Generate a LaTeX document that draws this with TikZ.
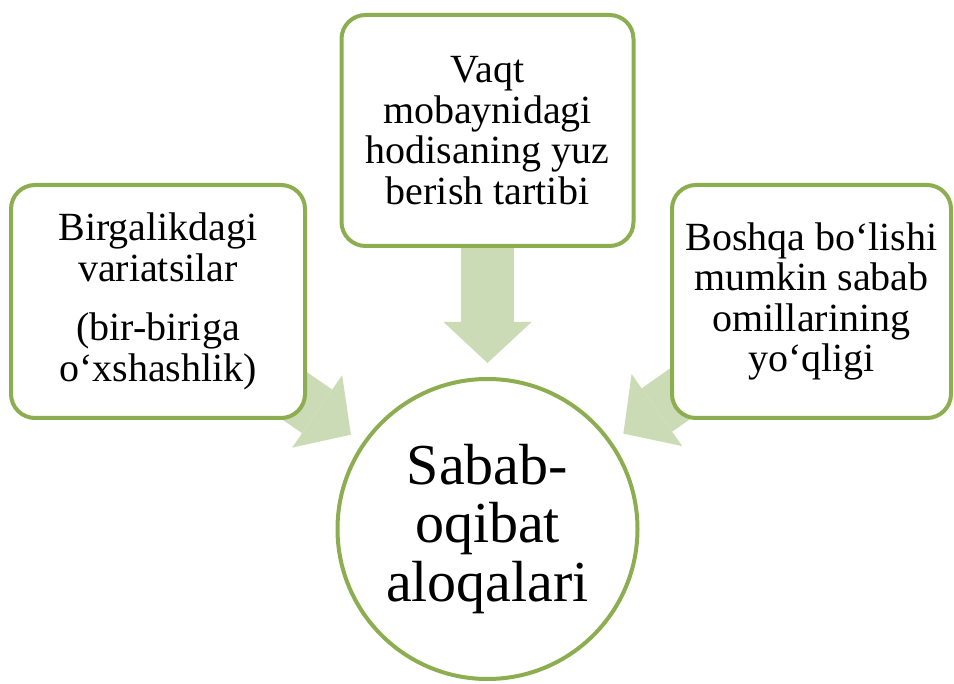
\documentclass[tikz,border=0pt]{standalone}
\usepackage{fontspec}
\setmainfont{Liberation Serif}
\usetikzlibrary{arrows.meta, backgrounds}
\definecolor{cline}{HTML}{8DAE50}
\definecolor{cfill}{HTML}{CADBB5}
\tikzset{
  every picture/.style={line width=4pt},
  box/.style={draw=cline, fill=white, rounded corners=24pt, align=center, inner sep=0pt,
    font=\fontsize{40}{40.5}\selectfont},
  hub/.style={draw=cline, fill=white, circle, align=center, inner sep=0pt, minimum size=300pt,
    font=\fontsize{58}{58.5}\selectfont},
  fat/.style={-{Triangle[length=41pt, width=88pt, line width=0pt]}, draw=cfill, line width=53pt, shorten >=166pt},
}

\begin{document}
\begin{tikzpicture}[x=1pt, y=-1pt]
  \useasboundingbox (0,0) rectangle (954,684);
  % nodes
  \node[hub] (sabab) at (487.5,529) {Sabab-\\oqibat\\aloqalari};
  \node[box, minimum width=292pt, minimum height=231pt] (vaqt) at (487.5,130.5)
    {Vaqt\\mobaynidagi\\hodisaning yuz\\berish tartibi};
  \node[box, minimum width=294pt, minimum height=233pt] (birga) at (158,301.5)
    {Birgalikdagi\\variatsilar\\[19pt](bir-biriga\\o‘xshashlik)};
  \node[box, minimum width=279pt, minimum height=233pt] (boshqa) at (811.5,301.5)
    {Boshqa bo‘lishi\\mumkin sabab\\omillarining\\yo‘qligi};
  % arrows
  \begin{scope}[on background layer]
    \foreach \n in {vaqt, birga, boshqa}
      \draw[fat] (\n.center) -- (sabab.center);
  \end{scope}
\end{tikzpicture}
\end{document}
